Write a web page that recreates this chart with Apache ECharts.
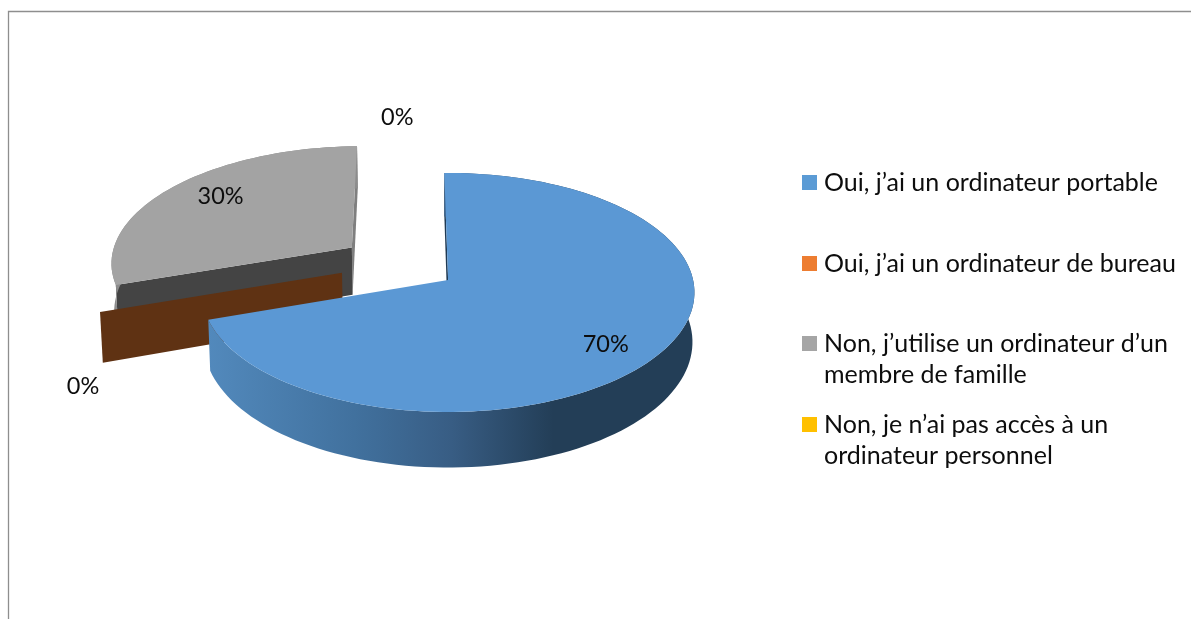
<!DOCTYPE html>
<html>
<head>
<meta charset="utf-8">
<style>html,body{margin:0;padding:0;background:#fff}#c{width:1191px;height:619px}</style>
<script src="https://cdn.jsdelivr.net/npm/echarts@6/dist/echarts.min.js"></script>
</head>
<body>
<div id="c"></div>
<script>
var categories = [
  'Oui, j’ai un ordinateur portable',
  'Oui, j’ai un ordinateur de bureau',
  'Non, j’utilise un ordinateur d’un\nmembre de famille',
  'Non, je n’ai pas accès à un\nordinateur personnel'
];
var values = [70, 0, 30, 0];
var legendColors = ['#5B9BD5', '#ED7D31', '#A5A5A5', '#FFC000'];

var FONT = 'Lato, "Noto Sans", sans-serif';
var CX = 449, CY = 280, RX = 245, RY = 118.2, PERSP = 0.1046;
var DEPTH = 49, LOW_X = 0.992, LOW_Y = 1.05;
var START = -1, EXPLODE = 0.247, CENTER = [-0.206, 0.142];
var sliceStyles = [
  {top: '#5B98D4', startWall: '#1F3A54', endWall: null,
   outer: [[0, '#5289BC'], [0.3, '#41719E'], [0.5, '#385D84'], [0.71, '#233E57'], [1, '#233E57']]},
  {top: null, startWall: null, endWall: '#5F3213', outer: null},
  {top: '#A3A3A3', startWall: '#444444', endWall: '#7F7F7F', outer: '#8C8C8C'},
  {top: null, startWall: null, endWall: null, outer: null}
];
var labelRadial = [0.7, 1, 0.7, 1];
var labelShift = [[11, 15], [-17, 74], [-4, -8], [-3, -19]];
var legendTops = [167, 248, 328, 409];

var total = values.reduce(function (a, b) { return a + b; }, 0);
var rad = function (d) { return d * Math.PI / 180; };

function proj(u, v, low) {
  var f = 1 / (1 + PERSP * v), x = RX * u * f, y = -RY * v * f;
  if (low) { x *= LOW_X; y = DEPTH + y * LOW_Y; }
  return [CX + x, CY + y];
}
function sliceAngles(i) {
  var s = 0;
  for (var k = 0; k < i; k++) s += values[k];
  var a0 = START + s / total * 360, a1 = a0 + values[i] / total * 360;
  return [a0, a1];
}
function renderSlice(idx) {
  return function () {
    var ang = sliceAngles(idx), a0 = ang[0], a1 = ang[1], mid = (a0 + a1) / 2;
    var au = CENTER[0] + EXPLODE * Math.sin(rad(mid));
    var av = CENTER[1] + EXPLODE * Math.cos(rad(mid));
    var rim = function (a, low) {
      return proj(au + Math.sin(rad(a)), av + Math.cos(rad(a)), low);
    };
    var st = sliceStyles[idx], kids = [];
    var poly = function (pts, fill) {
      kids.push({type: 'polygon', shape: {points: pts}, style: {fill: fill}});
    };
    var wall = function (a, fill) {
      poly([proj(au, av, false), rim(a, false), rim(a, true), proj(au, av, true)], fill);
    };
    if (st.endWall) wall(a1, st.endWall);
    if (st.startWall) wall(a0, st.startWall);
    if (a1 > a0) {
      var up = [], low = [];
      for (var a = a0; a < a1; a += 2) { up.push(rim(a, false)); low.push(rim(a, true)); }
      up.push(rim(a1, false)); low.push(rim(a1, true));
      var fill = st.outer;
      if (Array.isArray(fill)) {
        fill = new echarts.graphic.LinearGradient(0, 0, 1, 0, fill.map(function (s) {
          return {offset: s[0], color: s[1]};
        }));
      }
      poly(up.concat(low.slice().reverse()), fill);
      poly([proj(au, av, false)].concat(up), st.top);
    }
    var f = labelRadial[idx];
    var lp = proj(au + f * Math.sin(rad(mid)), av + f * Math.cos(rad(mid)), false);
    kids.push({
      type: 'text', z2: 100,
      style: {
        text: Math.round(values[idx] / total * 100) + '%',
        x: lp[0] + labelShift[idx][0], y: lp[1] + labelShift[idx][1],
        textAlign: 'center', textVerticalAlign: 'middle',
        font: '23.5px ' + FONT, fill: '#0D0D0D'
      }
    });
    return {type: 'group', children: kids};
  };
}

var zOrder = [6, 5, 3, 4];
var series = categories.map(function (name, i) {
  return {
    type: 'custom', name: name, coordinateSystem: 'none', silent: true,
    z: zOrder[i], data: [values[i]],
    itemStyle: {color: legendColors[i]},
    renderItem: renderSlice(i)
  };
});
var legends = categories.map(function (name, i) {
  var two = name.indexOf('\n') >= 0;
  return {
    data: [name], left: 802, top: legendTops[i], padding: 0, selectedMode: false,
    itemWidth: 15, itemHeight: two ? 46 : 15, itemGap: 7,
    icon: two ? 'path://M0 0H15V15H0Z M0 46L0 46' : 'rect',
    itemStyle: {color: legendColors[i]},
    textStyle: {fontFamily: FONT, fontSize: 25, lineHeight: 31, color: '#0D0D0D', padding: [0, 0, 0, 2]}
  };
});

var chart = echarts.init(document.getElementById('c'), null, {renderer: 'canvas'});
chart.setOption({
  animation: false,
  backgroundColor: '#FFFFFF',
  legend: legends,
  series: series,
  graphic: [{
    type: 'polyline', silent: true,
    shape: {points: [[8.5, 619], [8.5, 11.5], [1191, 11.5]]},
    style: {fill: null, stroke: '#8E8E8E', lineWidth: 1.3}
  }]
});
</script>
</body>
</html>
